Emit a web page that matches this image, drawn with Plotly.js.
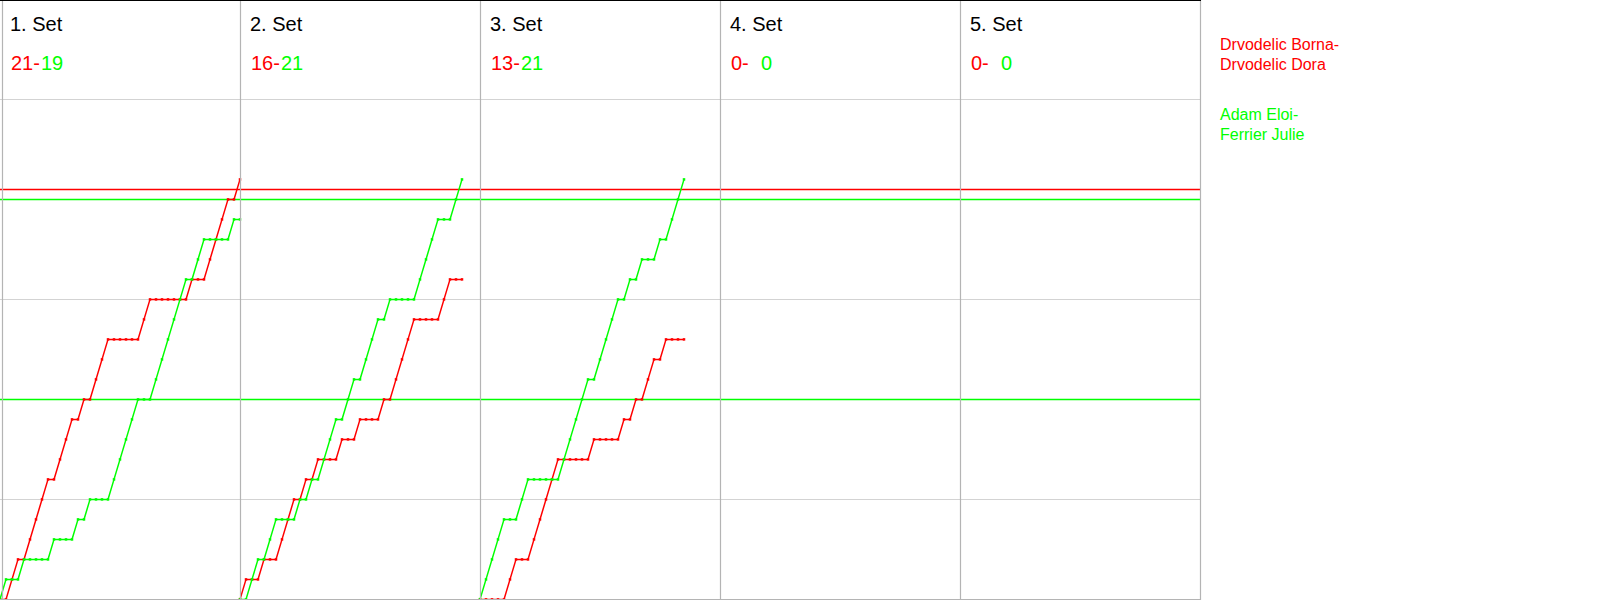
<!DOCTYPE html>
<html>
<head>
<meta charset="utf-8">
<script src="https://cdn.plot.ly/plotly-3.0.1.min.js"></script>
<style>
  html, body { margin: 0; padding: 0; background: #ffffff; }
  #chart { width: 1600px; height: 600px; }
</style>
</head>
<body>
<div id="chart"></div>
<script>
// ---- data ----
const setLabels = ['1. Set', '2. Set', '3. Set', '4. Set', '5. Set'];
const redSetScores = [21, 16, 13, 0, 0];
const greenSetScores = [19, 21, 21, 0, 0];

const teamRedLines = ['Drvodelic Borna-', 'Drvodelic Dora'];
const teamGreenLines = ['Adam Eloi-', 'Ferrier Julie'];

// cumulative score after each rally (index 0 = start of set)
const set1Red   = [0,0,1,2,2,3,4,5,6,6,7,8,9,9,10,10,11,12,13,13,13,13,13,13,14,15,15,15,15,15,15,15,16,16,16,17,18,19,20,20,21];
const set1Green = [0,1,1,1,2,2,2,2,2,3,3,3,3,4,4,5,5,5,5,6,7,8,9,10,10,10,11,12,13,14,15,16,16,17,18,18,18,18,18,19,19];
const set2Red   = [0,1,1,1,2,2,2,3,4,5,5,6,6,7,7,7,7,8,8,8,9,9,9,9,10,10,11,12,13,14,14,14,14,14,15,16,16,16];
const set2Green = [0,0,1,2,2,3,4,4,4,4,5,5,6,6,7,8,9,9,10,11,11,12,13,14,14,15,15,15,15,15,16,17,18,19,19,19,20,21];
const set3Red   = [0,0,0,0,0,1,2,2,2,3,4,5,6,7,7,7,7,7,7,8,8,8,8,8,9,9,10,10,11,12,12,13,13,13,13];
const set3Green = [0,1,2,3,4,4,4,5,6,6,6,6,6,6,7,8,9,10,11,11,12,13,14,15,15,16,16,17,17,17,18,18,19,20,21];

const redProgress = [set1Red, set2Red, set3Red, [], []];
const greenProgress = [set1Green, set2Green, set3Green, [], []];

const redRefLines = [20.5];
const greenRefLines = [20, 10];
const gridScores = [5, 15, 25];

// ---- styling / layout constants ----
const RED = '#ff0000';
const GREEN = '#00ff00';
const FONT = 'Liberation Sans, Arial, Helvetica, sans-serif';
const W = 1600, H = 600;
const PLOT_W = 1200;
const SLOT = 40;              // rally slots per set panel
const NSETS = setLabels.length;
const px = v => v / W;
const py = v => 1 - v / H;

const traces = [];
function addSeries(prog, color, name) {
  prog.forEach((arr, s) => {
    if (!arr.length) return;
    traces.push({
      type: 'scatter',
      mode: 'lines+markers',
      x: arr.map((_, i) => s * SLOT + i),
      y: arr,
      name: name,
      showlegend: false,
      hoverinfo: 'skip',
      cliponaxis: false,
      line: { color: color, width: 1.5 },
      marker: { color: color, size: 2.5, symbol: 'square', line: { width: 0 } }
    });
  });
}
addSeries(redProgress, RED, 'red');
addSeries(greenProgress, GREEN, 'green');

const shapes = [];
// horizontal reference lines
redRefLines.forEach(v => shapes.push({
  type: 'line', xref: 'paper', yref: 'y', x0: 0, x1: px(PLOT_W), y0: v, y1: v,
  line: { color: RED, width: 1.5 }, layer: 'below'
}));
greenRefLines.forEach(v => shapes.push({
  type: 'line', xref: 'paper', yref: 'y', x0: 0, x1: px(PLOT_W), y0: v, y1: v,
  line: { color: GREEN, width: 1.5 }, layer: 'below'
}));
// set dividers
const slotPx = PLOT_W / NSETS;
for (let k = 0; k <= NSETS; k++) {
  const xp = k === 0 ? 2.5 : k * slotPx + 0.5;
  shapes.push({
    type: 'line', xref: 'paper', yref: 'paper', x0: px(xp), x1: px(xp), y0: 0, y1: 1,
    line: { color: '#b4b4b4', width: 1.2 }, layer: 'above'
  });
}
// top and bottom borders
shapes.push({ type: 'line', xref: 'paper', yref: 'paper', x0: 0, x1: px(PLOT_W + 1), y0: py(0.5), y1: py(0.5),
  line: { color: '#000000', width: 1.2 }, layer: 'above' });
shapes.push({ type: 'line', xref: 'paper', yref: 'paper', x0: 0, x1: px(PLOT_W + 1), y0: py(599.5), y1: py(599.5),
  line: { color: '#b4b4b4', width: 1.2 }, layer: 'above' });

const annotations = [];
function note(text, xPix, yPix, color, size) {
  annotations.push({
    text: text, xref: 'paper', yref: 'paper', x: px(xPix), y: py(yPix),
    xanchor: 'left', yanchor: 'middle', showarrow: false,
    font: { family: FONT, size: size, color: color }
  });
}
setLabels.forEach((lab, s) => {
  const x0 = s * slotPx;
  note(lab, x0 + 8, 24, '#000000', 20);
  note(redSetScores[s] + '-', x0 + 9.4, 63, RED, 20);
  note(String(greenSetScores[s]), x0 + 38.5, 63, GREEN, 20);
});
teamRedLines.forEach((t, j) => note(t, 1218, 45 + j * 19.5, RED, 16));
teamGreenLines.forEach((t, j) => note(t, 1218, 115 + j * 19.5, GREEN, 16));

const layout = {
  width: W, height: H,
  margin: { l: 0, r: 0, t: 0, b: 0, pad: 0 },
  paper_bgcolor: '#ffffff', plot_bgcolor: '#ffffff',
  showlegend: false,
  xaxis: {
    domain: [0, PLOT_W / W], range: [0, SLOT * NSETS],
    showgrid: false, zeroline: false, showticklabels: false, ticks: '', showline: false, fixedrange: true
  },
  yaxis: {
    domain: [0, 1], range: [-0.03, 29.97],
    tickvals: gridScores, showgrid: true, gridcolor: '#d3d3d3', gridwidth: 1.2,
    zeroline: false, showticklabels: false, ticks: '', showline: false, fixedrange: true
  },
  shapes: shapes,
  annotations: annotations
};

Plotly.newPlot('chart', traces, layout, { staticPlot: true, displayModeBar: false });
</script>
</body>
</html>
